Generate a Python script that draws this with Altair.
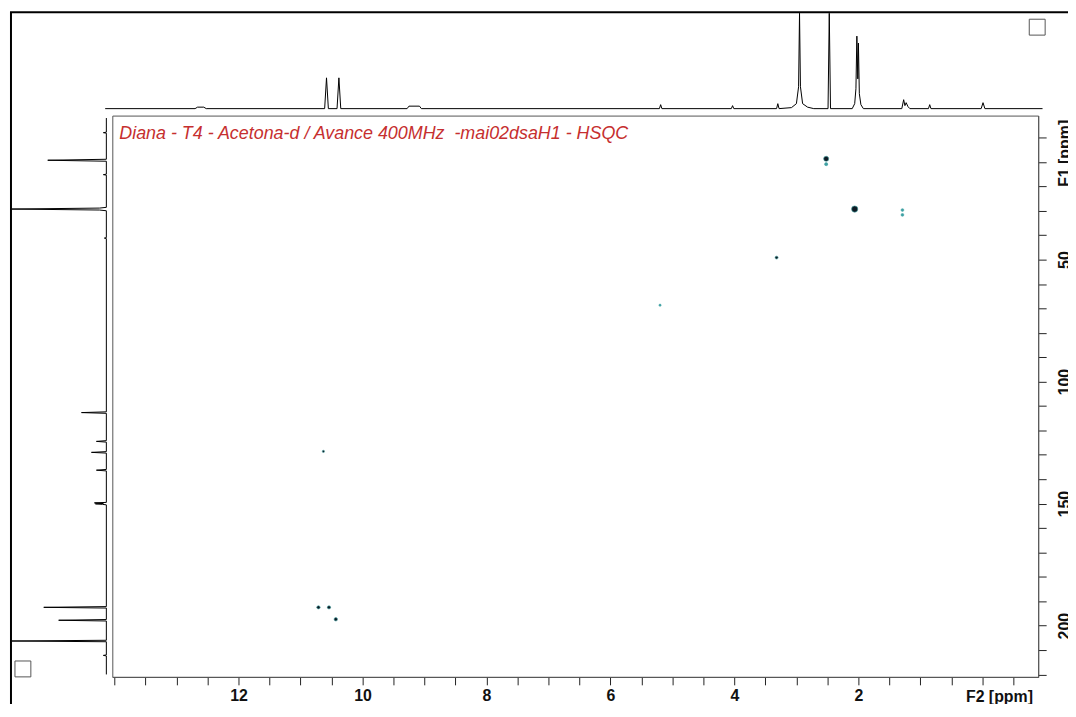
import altair as alt
import pandas as pd

TITLE = "Diana - T4 - Acetona-d / Avance 400MHz\u00a0 -mai02dsaH1 - HSQC"
X_TITLE = "F2 [ppm]"
Y_TITLE = "F1 [ppm]"

# axes
F2_DOMAIN = [14.035, -0.9]
F1_DOMAIN = [-9.0, 221.0]
F2_TICKS = [14.0, 13.5, 13.0, 12.5, 12.0, 11.5, 11.0, 10.5, 10.0, 9.5, 9.0, 8.5, 8.0, 7.5,
            7.0, 6.5, 6.0, 5.5, 5.0, 4.5, 4.0, 3.5, 3.0, 2.5, 2.0, 1.5, 1.0, 0.5, 0.0, -0.5]
F2_LABELS = [12, 10, 8, 6, 4, 2]
F1_TICKS = [0, 10, 20, 30, 40, 50, 60, 70, 80, 90, 100, 110, 120, 130, 140, 150, 160,
            170, 180, 190, 200, 210, 220]
F1_LABELS = [50, 100, 150, 200]

# 2D cross peaks (F2 = 1H ppm, F1 = 13C ppm)
peak_f2 = [2.52, 2.52, 2.06, 1.29, 1.29, 3.32, 5.20, 10.63, 10.71, 10.54, 10.43]
peak_f1 = [8.7, 10.9, 29.3, 29.7, 31.7, 49.2, 68.7, 128.6, 192.5, 192.5, 197.4]
peak_size = [26, 10, 40, 8, 8, 9, 5, 5, 11, 11, 12]
peak_level = ["dark", "teal", "dark", "teal", "teal", "dark", "teal", "dark", "dark", "dark", "dark"]

# top projection (1H), intensity in arbitrary units
top_ppm = [14.15, 12.70, 12.66, 12.56, 12.52,
           10.61, 10.58, 10.55,
           10.41, 10.38, 10.35,
           9.28, 9.25, 9.08, 9.05,
           5.21, 5.19, 5.17,
           4.05, 4.03, 4.01,
           3.32, 3.30, 3.28,
           3.08, 3.00, 2.965, 2.95, 2.935, 2.90, 2.82, 2.72,
           2.49, 2.47, 2.45,
           2.10, 2.06, 2.04, 2.025, 2.01, 2.00, 1.985, 1.96, 1.92,
           1.30, 1.27, 1.25, 1.23, 1.20, 1.17,
           0.87, 0.85, 0.83,
           0.02, -0.01, -0.04,
           -0.97]
top_int = [0, 0, 1.5, 1.5, 0,
           0, 31, 0,
           0, 31, 0,
           0, 2.5, 2.5, 0,
           0, 4, 0,
           0, 3, 0,
           0, 5, 0,
           1, 5, 22, 130, 22, 5, 1.5, 0,
           0, 130, 0,
           0, 5, 20, 73, 30, 66, 15, 4, 0,
           0, 9, 3, 6, 2, 0,
           0, 4, 0,
           0, 6, 0,
           0]

# left projection (13C)
left_f1 = [-8, -2.2, -2.0, -1.8,
           8.9, 9.3, 9.7,
           15.0, 15.2, 15.4,
           28.6, 28.9, 29.3, 29.7, 30.0,
           41.0, 41.2, 41.4,
           112.4, 112.7, 113.0,
           124.2, 124.5, 124.8,
           128.7, 129.0, 129.3,
           136.0, 136.3, 136.6,
           149.5, 149.7, 149.9, 150.1, 150.3, 150.5,
           192.2, 192.5, 192.8,
           197.5, 197.8, 198.1,
           206.0, 206.3, 206.6,
           212.0, 212.2, 212.4,
           220]
left_int = [0, 0, 3, 0,
            0, 59, 0,
            0, 3, 0,
            0, 7, 130, 7, 0,
            0, 2, 0,
            0, 25, 0,
            0, 10, 0,
            0, 15, 0,
            0, 10, 0,
            0, 12, 3, 11, 4, 0,
            0, 63, 0,
            0, 48, 0,
            0, 130, 0,
            0, 3, 0,
            0]

W, H = 932, 565
AXFONT = "Liberation Sans Narrow, Arial Narrow, Liberation Sans, Arial, sans-serif"
TXTFONT = "Liberation Sans, Arial, sans-serif"

df_peaks = pd.DataFrame({"f2": peak_f2, "f1": peak_f1, "size": peak_size, "level": peak_level})
df_top = pd.DataFrame({"ppm": top_ppm, "inten": top_int, "i": list(range(len(top_ppm)))})
df_left = pd.DataFrame({"f1": left_f1, "inten": left_int, "i": list(range(len(left_f1)))})

xs = alt.Scale(domain=F2_DOMAIN, range=[0, W], nice=False, zero=False)
ys = alt.Scale(domain=F1_DOMAIN, range=[0, H], nice=False, zero=False)

x_axis = alt.Axis(
    orient="bottom", values=F2_TICKS,
    labelExpr="indexof(%s, datum.value) >= 0 ? format(datum.value, 'd') : ''" % F2_LABELS,
    tickSize=8, tickColor="#222", domainColor="#555", grid=False, title=None,
    labelFont=AXFONT, labelFontSize=16, labelFontWeight="bold", labelColor="#111",
    labelPadding=3, labelOverlap=False, labelFlush=False,
)
y_axis = alt.Axis(
    orient="right", values=F1_TICKS,
    labelExpr="indexof(%s, datum.value) >= 0 ? format(datum.value, 'd') : ''" % F1_LABELS,
    tickSize=8, tickColor="#222", domainColor="#555", grid=False, title=None,
    labelFont=AXFONT, labelFontSize=16, labelFontWeight="bold", labelColor="#111",
    labelAngle=270, labelAlign="center", labelBaseline="top",
    labelPadding=11, labelOverlap=False, labelFlush=False,
)

peaks = alt.Chart(df_peaks).mark_circle(
    opacity=1, stroke="#48a7a8", strokeWidth=1, strokeOpacity=0.6
).encode(
    x=alt.X("f2:Q", scale=xs, axis=x_axis),
    y=alt.Y("f1:Q", scale=ys, axis=y_axis),
    size=alt.Size("size:Q", scale=None, legend=None),
    color=alt.Color("level:N", scale=alt.Scale(domain=["dark", "teal"], range=["#0d1a24", "#3c9fa3"]), legend=None),
)

top = alt.Chart(df_top).mark_line(color="#000", strokeWidth=1, clip=False).encode(
    x=alt.X("ppm:Q", scale=xs, axis=None),
    y=alt.Y("inten:Q", scale=alt.Scale(domain=[0, 96], range=[-7, -103], clamp=True, nice=False, zero=False), axis=None),
    order=alt.Order("i:Q"),
)

left = alt.Chart(df_left).mark_line(color="#000", strokeWidth=1, clip=False).encode(
    x=alt.X("inten:Q", scale=alt.Scale(domain=[0, 95], range=[-6, -101], clamp=True, nice=False, zero=False), axis=None),
    y=alt.Y("f1:Q", scale=ys, axis=None),
    order=alt.Order("i:Q"),
)

one = pd.DataFrame({"a": [0]})

title_txt = alt.Chart(pd.DataFrame({"t": [TITLE]})).mark_text(
    align="left", baseline="alphabetic", font=TXTFONT, fontStyle="italic",
    fontSize=18, color="#c62f2f"
).encode(x=alt.value(7), y=alt.value(24), text="t:N")

xt = alt.Chart(pd.DataFrame({"t": [X_TITLE]})).mark_text(
    align="center", baseline="top", font=AXFONT, fontSize=16, fontWeight="bold", color="#111"
).encode(x=alt.value(893), y=alt.value(577), text="t:N")

yt = alt.Chart(pd.DataFrame({"t": [Y_TITLE]})).mark_text(
    align="center", baseline="top", font=AXFONT, fontSize=16, fontWeight="bold", color="#111", angle=270
).encode(x=alt.value(951), y=alt.value(38), text="t:N")

border_top = alt.Chart(one).mark_rule(color="#000", strokeWidth=2).encode(
    x=alt.value(-103), x2=alt.value(965), y=alt.value(-104))
border_left = alt.Chart(one).mark_rule(color="#000", strokeWidth=2).encode(
    x=alt.value(-102), y=alt.value(-104), y2=alt.value(600))

sq_tr = alt.Chart(one).mark_point(shape="square", size=256, filled=True, fill="white",
                                  stroke="#555", strokeWidth=1, opacity=1).encode(
    x=alt.value(931), y=alt.value(-89))
sq_bl = alt.Chart(one).mark_point(shape="square", size=256, filled=True, fill="white",
                                  stroke="#555", strokeWidth=1, opacity=1).encode(
    x=alt.value(-90), y=alt.value(557))

chart = alt.layer(
    top, left, peaks, title_txt, xt, yt, border_top, border_left, sq_tr, sq_bl
).resolve_scale(x="independent", y="independent").properties(
    width=W, height=H,
    autosize=alt.AutoSizeParams(type="none"),
    padding={"left": 105, "top": 106, "right": 30, "bottom": 25},
    background="white",
).configure_view(stroke="#555", strokeWidth=1)

chart.save("out.html", embed_options={"renderer": "svg", "actions": False})
